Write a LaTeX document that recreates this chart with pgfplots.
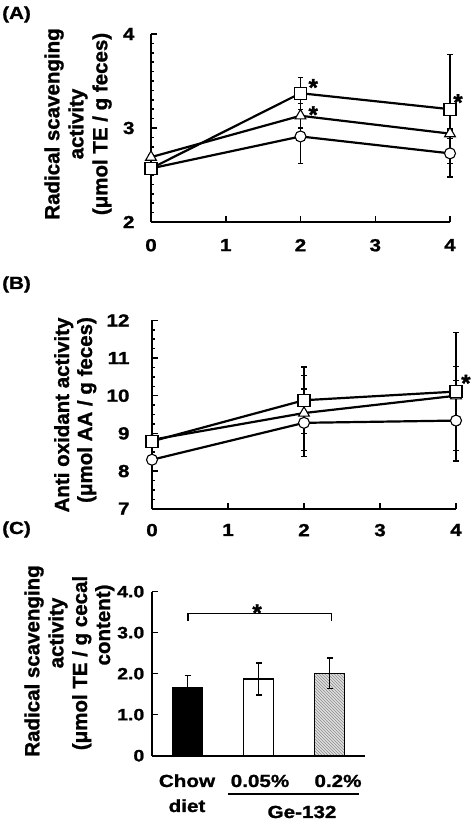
\documentclass[border=0pt]{standalone}
\usepackage{fontspec}
\setmainfont{Liberation Sans}[BoldFeatures={FakeBold=1.2}]
\newfontfamily\wide{Liberation Sans}[FakeStretch=1.18, BoldFeatures={FakeBold=1.2}]
\usepackage{pgfplots}
\pgfplotsset{compat=1.18}
\usetikzlibrary{patterns}

\pgfplotstableread{
x y e
0 2.57 0.03
2 2.91 0.29
4 2.73 0.25
}\Acirc
\pgfplotstableread{
x y e
0 2.69 0.03
2 3.13 0.13
4 2.94 0.05
}\Atri
\pgfplotstableread{
x y e
0 2.57 0.03
2 3.37 0.17
4 3.20 0.58
}\Asq

\pgfplotstableread{
x y e
0 8.30 0.10
2 9.28 0.90
4 9.34 1.07
}\Bcirc
\pgfplotstableread{
x y e
0 8.83 0.10
2 9.54 1.00
4 10.00 0.78
}\Btri
\pgfplotstableread{
x y e
0 8.79 0.10
2 9.88 0.88
4 10.11 1.56
}\Bsq

\pgfplotsset{
  mystyle/.style={
    scale only axis, axis lines=left, axis line style={-, line width=2.3pt},
    tick align=inside, tick style={line width=1.5pt, black},
    major tick length=6pt, minor tick length=3pt,
    enlargelimits=false, clip=false,
    ticklabel style={font=\wide\bfseries\fontsize{17.5}{20}\selectfont},
    /pgf/number format/assume math mode=true,
  },
  ebar/.style={black, only marks, mark=none, forget plot,
    error bars/.cd, y dir=both, y explicit,
    error bar style={line width=1.3pt},
    error mark options={rotate=90, mark size=2.6pt, line width=1.3pt}},
  ser/.style={black, line width=2.2pt,
    mark options={fill=white, draw=black, line width=1.1pt, solid}},
}
\newcommand{\lab}{\bfseries\fontsize{20.5}{24}\selectfont}
\newcommand{\txt}{\wide\bfseries\fontsize{17.5}{20}\selectfont}
\newcommand{\sigstar}{\bfseries\fontsize{24}{26}\selectfont *}

\begin{document}
\begin{tikzpicture}
\useasboundingbox (0,0) rectangle (473pt,829pt);

% Panel labels
\node[anchor=base west, inner sep=0pt, font=\txt] at (2pt,810pt) {(A)};
\node[anchor=base west, inner sep=0pt, font=\txt] at (2pt,540pt) {(B)};
\node[anchor=base west, inner sep=0pt, font=\txt] at (2pt,295pt) {(C)};

% Y labels
\node[rotate=90, anchor=base, inner sep=0pt, font=\lab] at (59.3pt,705pt) {Radical scavenging};
\node[rotate=90, anchor=base, inner sep=0pt, font=\lab] at (83.3pt,705pt) {activity};
\node[rotate=90, anchor=base, inner sep=0pt, font=\lab] at (107.3pt,705pt) {(μmol TE / g feces)};

\node[rotate=90, anchor=base, inner sep=0pt, font=\lab] at (69pt,414pt) {Anti oxidant activity};
\node[rotate=90, anchor=base, inner sep=0pt, font=\lab] at (92pt,419pt) {(μmol AA / g feces)};

\node[rotate=90, anchor=base, inner sep=0pt, font=\lab] at (39.3pt,168pt) {Radical scavenging};
\node[rotate=90, anchor=base, inner sep=0pt, font=\lab] at (63.3pt,196pt) {activity};
\node[rotate=90, anchor=base, inner sep=0pt, font=\lab] at (87pt,166pt) {(μmol TE / g cecal};
\node[rotate=90, anchor=base, inner sep=0pt, font=\lab] at (110pt,204pt) {content)};

% Panel A
\begin{axis}[mystyle, at={(151pt,607pt)}, anchor=south west,
  width=299pt, height=188pt,
  xmin=0, xmax=4, ymin=2, ymax=4,
  xtick={0,1,2,3,4}, ytick={2,3,4}, minor y tick num=9,
  yticklabel style={xshift=-13pt},
  xticklabel style={yshift=-13.5pt}]
\addplot[ebar] table[x=x,y=y,y error=e] {\Acirc};
\addplot[ebar] table[x=x,y=y,y error=e] {\Atri};
\addplot[ebar] table[x=x,y=y,y error=e] {\Asq};
\addplot[ser, mark=*, mark size=5.5pt] table[x=x,y=y] {\Acirc};
\addplot[ser, mark=triangle*, mark size=6.2pt] table[x=x,y=y] {\Atri};
\addplot[ser, mark=square*, mark size=6pt] table[x=x,y=y] {\Asq};
\node[anchor=base, inner sep=0pt, yshift=-13.7pt] at (axis cs:2.17,3.49) {\sigstar};
\node[anchor=base, inner sep=0pt, yshift=-13.7pt] at (axis cs:2.17,3.20) {\sigstar};
\node[anchor=base, inner sep=0pt, yshift=-13.7pt] at (axis cs:4.107,3.33) {\sigstar};
\end{axis}

% Panel B
\begin{axis}[mystyle, at={(152pt,320.3pt)}, anchor=south west,
  width=304pt, height=188.3pt,
  xmin=0, xmax=4, ymin=7, ymax=12,
  xtick={0,1,2,3,4}, ytick={7,8,9,10,11,12}, minor y tick num=3,
  yticklabel style={xshift=-19pt},
  xticklabel style={yshift=-11.7pt}]
\addplot[ebar] table[x=x,y=y,y error=e] {\Bcirc};
\addplot[ebar] table[x=x,y=y,y error=e] {\Btri};
\addplot[ebar] table[x=x,y=y,y error=e] {\Bsq};
\addplot[ser, mark=*, mark size=5.5pt] table[x=x,y=y] {\Bcirc};
\addplot[ser, mark=triangle*, mark size=6.2pt] table[x=x,y=y] {\Btri};
\addplot[ser, mark=square*, mark size=6pt] table[x=x,y=y] {\Bsq};
\node[anchor=base, inner sep=0pt, yshift=-13.7pt] at (axis cs:4.13,10.48) {\sigstar};
\end{axis}

% Panel C
\begin{axis}[mystyle, at={(152pt,73.3pt)}, anchor=south west,
  width=213pt, height=164pt,
  xmin=-0.5, xmax=2.5, ymin=0, ymax=4,
  xtick=\empty, ytick={0,1,2,3,4}, yticklabels={0,1.0,2.0,3.0,4.0},
  yticklabel style={xshift=-4.2pt, font=\wide\bfseries\fontsize{16.5}{19}\selectfont},
  ybar, bar width=30pt, bar shift=0pt,
  error bars/error bar style={line width=1.3pt},
  error bars/error mark options={rotate=90, mark size=3pt, line width=1.3pt}]
\addplot[draw=black, line width=1.4pt, fill=black,
  error bars/.cd, y dir=both, y explicit] coordinates {(0,1.66) +- (0,0.29)};
\addplot[draw=black, line width=1.4pt, fill=white,
  error bars/.cd, y dir=both, y explicit] coordinates {(1,1.87) +- (0,0.39)};
\addplot[draw=black, line width=1.4pt, fill=gray!25,
  postaction={pattern=north west lines, pattern color=gray!90},
  error bars/.cd, y dir=both, y explicit] coordinates {(2,2.01) +- (0,0.37)};
\draw[line width=1.5pt] (axis cs:0.01,3.29) -- (axis cs:0.01,3.47) -- (axis cs:2.03,3.47) -- (axis cs:2.03,3.29);
\node[anchor=base, inner sep=0pt, yshift=-13.7pt] at (axis cs:0.98,3.62) {\sigstar};
\end{axis}

% Panel C category labels
\node[anchor=base, inner sep=0pt, font=\txt] at (187pt,42pt) {Chow};
\node[anchor=base, inner sep=0pt, font=\txt] at (187pt,17pt) {diet};
\node[anchor=base, inner sep=0pt, font=\txt] at (260pt,42pt) {0.05\%};
\node[anchor=base, inner sep=0pt, font=\txt] at (338pt,42pt) {0.2\%};
\node[anchor=base, inner sep=0pt, font=\txt] at (302pt,11pt) {Ge-132};
\draw[line width=1.3pt] (228pt,35pt) -- (359pt,35pt);
\end{tikzpicture}
\end{document}
